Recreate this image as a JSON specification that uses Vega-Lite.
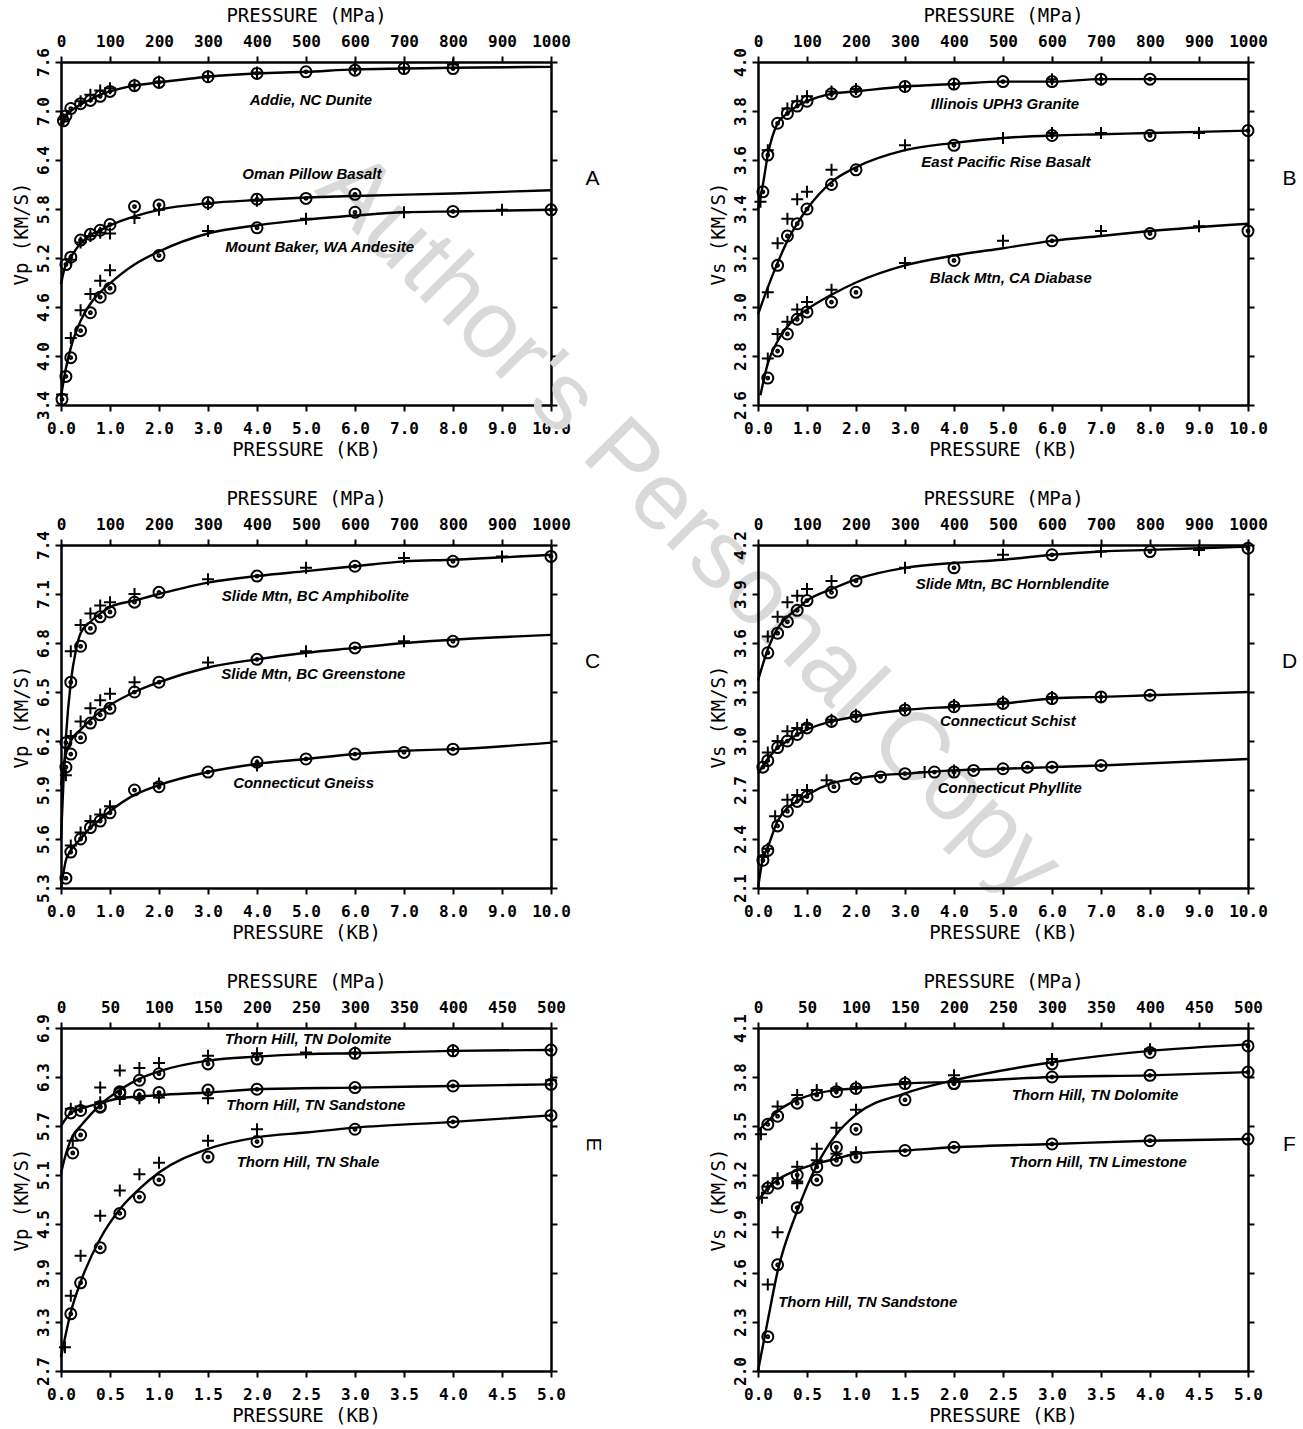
{
"$schema":"https://vega.github.io/schema/vega-lite/v6.json",
"background":"white",
"padding":{"left":12,"top":6,"right":5,"bottom":5},
"columns":2,
"bounds":"flush",
"spacing":{"row":140,"column":207},
"datasets":{
"A":[
{"k":"w","p":12.82,"v":1.92,"t":"Author's Personal Copy"},
{"k":"l","s":1,"p":0,"v":6.84},{"k":"l","s":1,"p":0.1,"v":6.94},{"k":"l","s":1,"p":0.2,"v":7.0},{"k":"l","s":1,"p":0.4,"v":7.08},{"k":"l","s":1,"p":0.6,"v":7.14},{"k":"l","s":1,"p":0.8,"v":7.2},{"k":"l","s":1,"p":1,"v":7.24},{"k":"l","s":1,"p":1.5,"v":7.31},{"k":"l","s":1,"p":2,"v":7.35},{"k":"l","s":1,"p":3,"v":7.42},{"k":"l","s":1,"p":4,"v":7.46},{"k":"l","s":1,"p":5,"v":7.48},{"k":"l","s":1,"p":6,"v":7.51},{"k":"l","s":1,"p":7,"v":7.52},{"k":"l","s":1,"p":8,"v":7.53},{"k":"l","s":1,"p":10,"v":7.54},
{"k":"l","s":2,"p":0,"v":4.88},{"k":"l","s":2,"p":0.05,"v":5.02},{"k":"l","s":2,"p":0.1,"v":5.12},{"k":"l","s":2,"p":0.2,"v":5.21},{"k":"l","s":2,"p":0.4,"v":5.38},{"k":"l","s":2,"p":0.6,"v":5.48},{"k":"l","s":2,"p":0.8,"v":5.54},{"k":"l","s":2,"p":1,"v":5.6},{"k":"l","s":2,"p":1.5,"v":5.71},{"k":"l","s":2,"p":2,"v":5.79},{"k":"l","s":2,"p":3,"v":5.87},{"k":"l","s":2,"p":4,"v":5.91},{"k":"l","s":2,"p":5,"v":5.94},{"k":"l","s":2,"p":6,"v":5.96},{"k":"l","s":2,"p":8,"v":5.99},{"k":"l","s":2,"p":10,"v":6.03},
{"k":"l","s":3,"p":0,"v":3.5},{"k":"l","s":3,"p":0.1,"v":3.85},{"k":"l","s":3,"p":0.2,"v":4.1},{"k":"l","s":3,"p":0.4,"v":4.43},{"k":"l","s":3,"p":0.6,"v":4.64},{"k":"l","s":3,"p":0.8,"v":4.78},{"k":"l","s":3,"p":1,"v":4.89},{"k":"l","s":3,"p":1.5,"v":5.12},{"k":"l","s":3,"p":2,"v":5.28},{"k":"l","s":3,"p":3,"v":5.5},{"k":"l","s":3,"p":4,"v":5.6},{"k":"l","s":3,"p":5,"v":5.67},{"k":"l","s":3,"p":6,"v":5.72},{"k":"l","s":3,"p":7,"v":5.76},{"k":"l","s":3,"p":8,"v":5.77},{"k":"l","s":3,"p":10,"v":5.79},
{"k":"o","p":0.05,"v":6.88},{"k":"o","p":0.1,"v":6.94},{"k":"o","p":0.2,"v":7.03},{"k":"o","p":0.4,"v":7.09},{"k":"o","p":0.6,"v":7.13},{"k":"o","p":0.8,"v":7.18},{"k":"o","p":1,"v":7.24},{"k":"o","p":1.5,"v":7.31},{"k":"o","p":2,"v":7.35},{"k":"o","p":3,"v":7.42},{"k":"o","p":4,"v":7.46},{"k":"o","p":5,"v":7.48},{"k":"o","p":6,"v":7.5},{"k":"o","p":7,"v":7.52},{"k":"o","p":8,"v":7.52},
{"k":"x","p":0.05,"v":6.9},{"k":"x","p":0.4,"v":7.12},{"k":"x","p":0.6,"v":7.2},{"k":"x","p":0.8,"v":7.25},{"k":"x","p":1,"v":7.28},{"k":"x","p":1.5,"v":7.32},{"k":"x","p":2,"v":7.36},{"k":"x","p":3,"v":7.43},{"k":"x","p":4,"v":7.47},{"k":"x","p":6,"v":7.52},{"k":"x","p":7,"v":7.53},{"k":"x","p":8,"v":7.57},
{"k":"o","p":0.1,"v":5.12},{"k":"o","p":0.2,"v":5.21},{"k":"o","p":0.4,"v":5.42},{"k":"o","p":0.6,"v":5.49},{"k":"o","p":0.8,"v":5.54},{"k":"o","p":1,"v":5.61},{"k":"o","p":1.5,"v":5.83},{"k":"o","p":2,"v":5.85},{"k":"o","p":3,"v":5.88},{"k":"o","p":4,"v":5.92},{"k":"o","p":5,"v":5.93},{"k":"o","p":6,"v":5.98},
{"k":"x","p":0.2,"v":5.18},{"k":"x","p":0.4,"v":5.39},{"k":"x","p":0.6,"v":5.47},{"k":"x","p":0.8,"v":5.51},{"k":"x","p":1,"v":5.5},{"k":"x","p":1.5,"v":5.69},{"k":"x","p":2,"v":5.79},{"k":"x","p":3,"v":5.86},{"k":"x","p":4,"v":5.9},
{"k":"o","p":0.02,"v":3.47},{"k":"o","p":0.1,"v":3.75},{"k":"o","p":0.2,"v":3.98},{"k":"o","p":0.4,"v":4.31},{"k":"o","p":0.6,"v":4.53},{"k":"o","p":0.8,"v":4.72},{"k":"o","p":1,"v":4.83},{"k":"o","p":2,"v":5.23},{"k":"o","p":4,"v":5.57},{"k":"o","p":6,"v":5.76},{"k":"o","p":8,"v":5.77},{"k":"o","p":10,"v":5.79},
{"k":"x","p":0.02,"v":3.53},{"k":"x","p":0.2,"v":4.22},{"k":"x","p":0.4,"v":4.56},{"k":"x","p":0.6,"v":4.76},{"k":"x","p":0.8,"v":4.92},{"k":"x","p":1,"v":5.05},{"k":"x","p":3,"v":5.53},{"k":"x","p":5,"v":5.68},{"k":"x","p":7,"v":5.76},{"k":"x","p":9,"v":5.79},{"k":"x","p":10,"v":5.79},
{"k":"t","p":5.1,"v":7.13,"t":"Addie, NC  Dunite"},{"k":"t","p":5.12,"v":6.23,"t":"Oman  Pillow Basalt"},{"k":"t","p":5.28,"v":5.33,"t":"Mount Baker, WA  Andesite"}
],
"B":[
{"k":"l","s":1,"p":0,"v":3.4},{"k":"l","s":1,"p":0.1,"v":3.5},{"k":"l","s":1,"p":0.2,"v":3.62},{"k":"l","s":1,"p":0.4,"v":3.75},{"k":"l","s":1,"p":0.6,"v":3.79},{"k":"l","s":1,"p":0.8,"v":3.82},{"k":"l","s":1,"p":1,"v":3.84},{"k":"l","s":1,"p":1.5,"v":3.87},{"k":"l","s":1,"p":2,"v":3.88},{"k":"l","s":1,"p":3,"v":3.9},{"k":"l","s":1,"p":4,"v":3.91},{"k":"l","s":1,"p":5,"v":3.92},{"k":"l","s":1,"p":6,"v":3.92},{"k":"l","s":1,"p":7,"v":3.93},{"k":"l","s":1,"p":8,"v":3.93},{"k":"l","s":1,"p":10,"v":3.93},
{"k":"l","s":2,"p":0,"v":2.97},{"k":"l","s":2,"p":0.2,"v":3.08},{"k":"l","s":2,"p":0.4,"v":3.18},{"k":"l","s":2,"p":0.6,"v":3.27},{"k":"l","s":2,"p":0.8,"v":3.34},{"k":"l","s":2,"p":1,"v":3.4},{"k":"l","s":2,"p":1.5,"v":3.51},{"k":"l","s":2,"p":2,"v":3.57},{"k":"l","s":2,"p":3,"v":3.64},{"k":"l","s":2,"p":4,"v":3.67},{"k":"l","s":2,"p":5,"v":3.69},{"k":"l","s":2,"p":6,"v":3.7},{"k":"l","s":2,"p":7,"v":3.705},{"k":"l","s":2,"p":8,"v":3.71},{"k":"l","s":2,"p":10,"v":3.72},
{"k":"l","s":3,"p":0.05,"v":2.64},{"k":"l","s":3,"p":0.2,"v":2.77},{"k":"l","s":3,"p":0.4,"v":2.86},{"k":"l","s":3,"p":0.6,"v":2.92},{"k":"l","s":3,"p":0.8,"v":2.96},{"k":"l","s":3,"p":1,"v":2.99},{"k":"l","s":3,"p":1.5,"v":3.05},{"k":"l","s":3,"p":2,"v":3.1},{"k":"l","s":3,"p":3,"v":3.17},{"k":"l","s":3,"p":4,"v":3.21},{"k":"l","s":3,"p":5,"v":3.24},{"k":"l","s":3,"p":6,"v":3.27},{"k":"l","s":3,"p":7,"v":3.29},{"k":"l","s":3,"p":8,"v":3.31},{"k":"l","s":3,"p":10,"v":3.34},
{"k":"o","p":0.1,"v":3.47},{"k":"o","p":0.2,"v":3.62},{"k":"o","p":0.4,"v":3.75},{"k":"o","p":0.6,"v":3.79},{"k":"o","p":0.8,"v":3.82},{"k":"o","p":1,"v":3.84},{"k":"o","p":1.5,"v":3.87},{"k":"o","p":2,"v":3.88},{"k":"o","p":3,"v":3.9},{"k":"o","p":4,"v":3.91},{"k":"o","p":5,"v":3.92},{"k":"o","p":6,"v":3.92},{"k":"o","p":7,"v":3.93},{"k":"o","p":8,"v":3.93},
{"k":"x","p":0.05,"v":3.43},{"k":"x","p":0.2,"v":3.64},{"k":"x","p":0.6,"v":3.81},{"k":"x","p":0.8,"v":3.84},{"k":"x","p":1,"v":3.86},{"k":"x","p":1.5,"v":3.88},{"k":"x","p":2,"v":3.89},{"k":"x","p":3,"v":3.9},{"k":"x","p":4,"v":3.91},{"k":"x","p":6,"v":3.93},{"k":"x","p":7,"v":3.93},
{"k":"o","p":0.4,"v":3.17},{"k":"o","p":0.6,"v":3.29},{"k":"o","p":0.8,"v":3.34},{"k":"o","p":1,"v":3.4},{"k":"o","p":1.5,"v":3.5},{"k":"o","p":2,"v":3.56},{"k":"o","p":4,"v":3.66},{"k":"o","p":6,"v":3.7},{"k":"o","p":8,"v":3.7},{"k":"o","p":10,"v":3.72},
{"k":"x","p":0.2,"v":3.06},{"k":"x","p":0.4,"v":3.26},{"k":"x","p":0.6,"v":3.36},{"k":"x","p":0.8,"v":3.44},{"k":"x","p":1,"v":3.47},{"k":"x","p":1.5,"v":3.56},{"k":"x","p":3,"v":3.66},{"k":"x","p":5,"v":3.69},{"k":"x","p":6,"v":3.71},{"k":"x","p":7,"v":3.71},{"k":"x","p":9,"v":3.71},
{"k":"o","p":0.2,"v":2.71},{"k":"o","p":0.4,"v":2.82},{"k":"o","p":0.6,"v":2.89},{"k":"o","p":0.8,"v":2.95},{"k":"o","p":1,"v":2.98},{"k":"o","p":1.5,"v":3.02},{"k":"o","p":2,"v":3.06},{"k":"o","p":4,"v":3.19},{"k":"o","p":6,"v":3.27},{"k":"o","p":8,"v":3.3},{"k":"o","p":10,"v":3.31},
{"k":"x","p":0.2,"v":2.79},{"k":"x","p":0.4,"v":2.89},{"k":"x","p":0.6,"v":2.94},{"k":"x","p":0.8,"v":2.99},{"k":"x","p":1,"v":3.02},{"k":"x","p":1.5,"v":3.07},{"k":"x","p":3,"v":3.18},{"k":"x","p":5,"v":3.27},{"k":"x","p":7,"v":3.31},{"k":"x","p":9,"v":3.33},
{"k":"t","p":5.04,"v":3.83,"t":"Illinois  UPH3  Granite"},{"k":"t","p":5.06,"v":3.59,"t":"East Pacific Rise  Basalt"},{"k":"t","p":5.16,"v":3.12,"t":"Black Mtn, CA  Diabase"}
],
"C":[
{"k":"l","s":1,"p":0,"v":5.6},{"k":"l","s":1,"p":0.05,"v":5.95},{"k":"l","s":1,"p":0.1,"v":6.22},{"k":"l","s":1,"p":0.2,"v":6.56},{"k":"l","s":1,"p":0.3,"v":6.75},{"k":"l","s":1,"p":0.4,"v":6.86},{"k":"l","s":1,"p":0.6,"v":6.93},{"k":"l","s":1,"p":0.8,"v":6.98},{"k":"l","s":1,"p":1,"v":7.02},{"k":"l","s":1,"p":1.5,"v":7.06},{"k":"l","s":1,"p":2,"v":7.1},{"k":"l","s":1,"p":3,"v":7.17},{"k":"l","s":1,"p":4,"v":7.21},{"k":"l","s":1,"p":5,"v":7.24},{"k":"l","s":1,"p":6,"v":7.27},{"k":"l","s":1,"p":7,"v":7.3},{"k":"l","s":1,"p":8,"v":7.31},{"k":"l","s":1,"p":10,"v":7.34},
{"k":"l","s":2,"p":0,"v":5.93},{"k":"l","s":2,"p":0.1,"v":6.12},{"k":"l","s":2,"p":0.2,"v":6.2},{"k":"l","s":2,"p":0.4,"v":6.27},{"k":"l","s":2,"p":0.6,"v":6.33},{"k":"l","s":2,"p":0.8,"v":6.38},{"k":"l","s":2,"p":1,"v":6.42},{"k":"l","s":2,"p":1.5,"v":6.5},{"k":"l","s":2,"p":2,"v":6.56},{"k":"l","s":2,"p":3,"v":6.65},{"k":"l","s":2,"p":4,"v":6.7},{"k":"l","s":2,"p":5,"v":6.74},{"k":"l","s":2,"p":6,"v":6.77},{"k":"l","s":2,"p":7,"v":6.8},{"k":"l","s":2,"p":8,"v":6.82},{"k":"l","s":2,"p":10,"v":6.85},
{"k":"l","s":3,"p":0,"v":5.3},{"k":"l","s":3,"p":0.1,"v":5.47},{"k":"l","s":3,"p":0.2,"v":5.53},{"k":"l","s":3,"p":0.4,"v":5.6},{"k":"l","s":3,"p":0.6,"v":5.67},{"k":"l","s":3,"p":0.8,"v":5.72},{"k":"l","s":3,"p":1,"v":5.77},{"k":"l","s":3,"p":1.5,"v":5.87},{"k":"l","s":3,"p":2,"v":5.93},{"k":"l","s":3,"p":3,"v":6.01},{"k":"l","s":3,"p":4,"v":6.06},{"k":"l","s":3,"p":5,"v":6.09},{"k":"l","s":3,"p":6,"v":6.12},{"k":"l","s":3,"p":7,"v":6.14},{"k":"l","s":3,"p":8,"v":6.15},{"k":"l","s":3,"p":10,"v":6.19},
{"k":"o","p":0.1,"v":6.19},{"k":"o","p":0.2,"v":6.56},{"k":"o","p":0.4,"v":6.78},{"k":"o","p":0.6,"v":6.89},{"k":"o","p":0.8,"v":6.96},{"k":"o","p":1,"v":6.99},{"k":"o","p":1.5,"v":7.05},{"k":"o","p":2,"v":7.11},{"k":"o","p":4,"v":7.21},{"k":"o","p":6,"v":7.27},{"k":"o","p":8,"v":7.3},{"k":"o","p":10,"v":7.33},
{"k":"x","p":0.2,"v":6.75},{"k":"x","p":0.4,"v":6.91},{"k":"x","p":0.6,"v":6.98},{"k":"x","p":0.8,"v":7.03},{"k":"x","p":1,"v":7.05},{"k":"x","p":1.5,"v":7.1},{"k":"x","p":3,"v":7.19},{"k":"x","p":5,"v":7.26},{"k":"x","p":7,"v":7.32},{"k":"x","p":9,"v":7.33},
{"k":"o","p":0.1,"v":6.04},{"k":"o","p":0.2,"v":6.12},{"k":"o","p":0.4,"v":6.22},{"k":"o","p":0.6,"v":6.31},{"k":"o","p":0.8,"v":6.36},{"k":"o","p":1,"v":6.4},{"k":"o","p":1.5,"v":6.5},{"k":"o","p":2,"v":6.56},{"k":"o","p":4,"v":6.7},{"k":"o","p":6,"v":6.77},{"k":"o","p":8,"v":6.81},
{"k":"x","p":0.1,"v":5.99},{"k":"x","p":0.2,"v":6.23},{"k":"x","p":0.4,"v":6.32},{"k":"x","p":0.6,"v":6.4},{"k":"x","p":0.8,"v":6.45},{"k":"x","p":1,"v":6.49},{"k":"x","p":1.5,"v":6.56},{"k":"x","p":3,"v":6.68},{"k":"x","p":5,"v":6.75},{"k":"x","p":7,"v":6.81},
{"k":"o","p":0.1,"v":5.36},{"k":"o","p":0.2,"v":5.52},{"k":"o","p":0.4,"v":5.6},{"k":"o","p":0.6,"v":5.67},{"k":"o","p":0.8,"v":5.71},{"k":"o","p":1,"v":5.76},{"k":"o","p":1.5,"v":5.9},{"k":"o","p":2,"v":5.92},{"k":"o","p":3,"v":6.01},{"k":"o","p":4,"v":6.07},{"k":"o","p":5,"v":6.09},{"k":"o","p":6,"v":6.12},{"k":"o","p":7,"v":6.13},{"k":"o","p":8,"v":6.15},
{"k":"x","p":0.2,"v":5.56},{"k":"x","p":0.4,"v":5.64},{"k":"x","p":0.6,"v":5.71},{"k":"x","p":0.8,"v":5.75},{"k":"x","p":1,"v":5.8},{"k":"x","p":2,"v":5.94},{"k":"x","p":4,"v":6.05},
{"k":"t","p":5.19,"v":7.09,"t":"Slide Mtn, BC  Amphibolite"},{"k":"t","p":5.15,"v":6.61,"t":"Slide Mtn, BC  Greenstone"},{"k":"t","p":4.95,"v":5.94,"t":"Connecticut  Gneiss"}
],
"D":[
{"k":"l","s":1,"p":0,"v":3.37},{"k":"l","s":1,"p":0.2,"v":3.56},{"k":"l","s":1,"p":0.4,"v":3.69},{"k":"l","s":1,"p":0.6,"v":3.76},{"k":"l","s":1,"p":0.8,"v":3.81},{"k":"l","s":1,"p":1,"v":3.86},{"k":"l","s":1,"p":1.5,"v":3.93},{"k":"l","s":1,"p":2,"v":3.99},{"k":"l","s":1,"p":3,"v":4.06},{"k":"l","s":1,"p":4,"v":4.09},{"k":"l","s":1,"p":5,"v":4.11},{"k":"l","s":1,"p":6,"v":4.14},{"k":"l","s":1,"p":7,"v":4.16},{"k":"l","s":1,"p":8,"v":4.17},{"k":"l","s":1,"p":10,"v":4.19},
{"k":"l","s":2,"p":0,"v":2.8},{"k":"l","s":2,"p":0.2,"v":2.89},{"k":"l","s":2,"p":0.4,"v":2.96},{"k":"l","s":2,"p":0.6,"v":3.0},{"k":"l","s":2,"p":0.8,"v":3.04},{"k":"l","s":2,"p":1,"v":3.07},{"k":"l","s":2,"p":1.5,"v":3.12},{"k":"l","s":2,"p":2,"v":3.15},{"k":"l","s":2,"p":3,"v":3.19},{"k":"l","s":2,"p":4,"v":3.21},{"k":"l","s":2,"p":5,"v":3.23},{"k":"l","s":2,"p":6,"v":3.26},{"k":"l","s":2,"p":7,"v":3.27},{"k":"l","s":2,"p":8,"v":3.28},{"k":"l","s":2,"p":10,"v":3.3},
{"k":"l","s":3,"p":0,"v":2.1},{"k":"l","s":3,"p":0.1,"v":2.28},{"k":"l","s":3,"p":0.2,"v":2.35},{"k":"l","s":3,"p":0.4,"v":2.51},{"k":"l","s":3,"p":0.6,"v":2.59},{"k":"l","s":3,"p":0.8,"v":2.63},{"k":"l","s":3,"p":1,"v":2.67},{"k":"l","s":3,"p":1.5,"v":2.74},{"k":"l","s":3,"p":2,"v":2.77},{"k":"l","s":3,"p":2.5,"v":2.79},{"k":"l","s":3,"p":3,"v":2.8},{"k":"l","s":3,"p":4,"v":2.82},{"k":"l","s":3,"p":5,"v":2.83},{"k":"l","s":3,"p":6,"v":2.84},{"k":"l","s":3,"p":7,"v":2.85},{"k":"l","s":3,"p":10,"v":2.89},
{"k":"o","p":0.2,"v":3.54},{"k":"o","p":0.4,"v":3.66},{"k":"o","p":0.6,"v":3.73},{"k":"o","p":0.8,"v":3.8},{"k":"o","p":1,"v":3.86},{"k":"o","p":1.5,"v":3.91},{"k":"o","p":2,"v":3.98},{"k":"o","p":4,"v":4.06},{"k":"o","p":6,"v":4.14},{"k":"o","p":8,"v":4.16},{"k":"o","p":10,"v":4.18},
{"k":"x","p":0.2,"v":3.64},{"k":"x","p":0.4,"v":3.76},{"k":"x","p":0.6,"v":3.85},{"k":"x","p":0.8,"v":3.89},{"k":"x","p":1,"v":3.93},{"k":"x","p":1.5,"v":3.98},{"k":"x","p":3,"v":4.06},{"k":"x","p":5,"v":4.14},{"k":"x","p":7,"v":4.16},{"k":"x","p":9,"v":4.17},
{"k":"o","p":0.1,"v":2.84},{"k":"o","p":0.2,"v":2.88},{"k":"o","p":0.4,"v":2.96},{"k":"o","p":0.6,"v":3.0},{"k":"o","p":0.8,"v":3.04},{"k":"o","p":1,"v":3.08},{"k":"o","p":1.5,"v":3.12},{"k":"o","p":2,"v":3.15},{"k":"o","p":3,"v":3.19},{"k":"o","p":4,"v":3.21},{"k":"o","p":5,"v":3.23},{"k":"o","p":6,"v":3.26},{"k":"o","p":7,"v":3.27},{"k":"o","p":8,"v":3.28},
{"k":"x","p":0.2,"v":2.93},{"k":"x","p":0.4,"v":3.0},{"k":"x","p":0.6,"v":3.06},{"k":"x","p":0.8,"v":3.08},{"k":"x","p":1,"v":3.1},{"k":"x","p":1.5,"v":3.13},{"k":"x","p":2,"v":3.16},{"k":"x","p":3,"v":3.2},{"k":"x","p":4,"v":3.22},{"k":"x","p":5,"v":3.24},{"k":"x","p":6,"v":3.27},{"k":"x","p":7,"v":3.27},
{"k":"o","p":0.1,"v":2.27},{"k":"o","p":0.2,"v":2.33},{"k":"o","p":0.4,"v":2.48},{"k":"o","p":0.6,"v":2.57},{"k":"o","p":0.8,"v":2.63},{"k":"o","p":1,"v":2.66},{"k":"o","p":1.55,"v":2.72},{"k":"o","p":2,"v":2.77},{"k":"o","p":2.5,"v":2.78},{"k":"o","p":3,"v":2.8},{"k":"o","p":3.6,"v":2.81},{"k":"o","p":4,"v":2.81},{"k":"o","p":4.4,"v":2.82},{"k":"o","p":5,"v":2.83},{"k":"o","p":5.5,"v":2.84},{"k":"o","p":6,"v":2.84},{"k":"o","p":7,"v":2.85},
{"k":"x","p":0.1,"v":2.29},{"k":"x","p":0.2,"v":2.34},{"k":"x","p":0.35,"v":2.54},{"k":"x","p":0.6,"v":2.64},{"k":"x","p":0.8,"v":2.67},{"k":"x","p":1,"v":2.7},{"k":"x","p":1.4,"v":2.76},{"k":"x","p":3.4,"v":2.81},{"k":"x","p":4,"v":2.82},
{"k":"t","p":5.19,"v":3.96,"t":"Slide Mtn, BC  Hornblendite"},{"k":"t","p":5.1,"v":3.12,"t":"Connecticut  Schist"},{"k":"t","p":5.14,"v":2.71,"t":"Connecticut  Phyllite"}
],
"E":[
{"k":"l","s":1,"p":0,"v":5.12},{"k":"l","s":1,"p":0.06,"v":5.4},{"k":"l","s":1,"p":0.12,"v":5.58},{"k":"l","s":1,"p":0.2,"v":5.7},{"k":"l","s":1,"p":0.4,"v":5.96},{"k":"l","s":1,"p":0.6,"v":6.14},{"k":"l","s":1,"p":0.8,"v":6.28},{"k":"l","s":1,"p":1,"v":6.37},{"k":"l","s":1,"p":1.5,"v":6.5},{"k":"l","s":1,"p":2,"v":6.55},{"k":"l","s":1,"p":2.5,"v":6.58},{"k":"l","s":1,"p":3,"v":6.59},{"k":"l","s":1,"p":4,"v":6.62},{"k":"l","s":1,"p":5,"v":6.63},
{"k":"l","s":2,"p":0,"v":5.7},{"k":"l","s":2,"p":0.1,"v":5.86},{"k":"l","s":2,"p":0.2,"v":5.91},{"k":"l","s":2,"p":0.4,"v":5.98},{"k":"l","s":2,"p":0.6,"v":6.04},{"k":"l","s":2,"p":0.8,"v":6.06},{"k":"l","s":2,"p":1,"v":6.08},{"k":"l","s":2,"p":1.5,"v":6.11},{"k":"l","s":2,"p":2,"v":6.15},{"k":"l","s":2,"p":3,"v":6.17},{"k":"l","s":2,"p":4,"v":6.19},{"k":"l","s":2,"p":5,"v":6.21},
{"k":"l","s":3,"p":0,"v":2.87},{"k":"l","s":3,"p":0.1,"v":3.42},{"k":"l","s":3,"p":0.2,"v":3.79},{"k":"l","s":3,"p":0.4,"v":4.32},{"k":"l","s":3,"p":0.6,"v":4.68},{"k":"l","s":3,"p":0.8,"v":4.93},{"k":"l","s":3,"p":1,"v":5.13},{"k":"l","s":3,"p":1.5,"v":5.42},{"k":"l","s":3,"p":2,"v":5.56},{"k":"l","s":3,"p":2.5,"v":5.62},{"k":"l","s":3,"p":3,"v":5.68},{"k":"l","s":3,"p":4,"v":5.75},{"k":"l","s":3,"p":5,"v":5.83},
{"k":"o","p":0.12,"v":5.37},{"k":"o","p":0.2,"v":5.59},{"k":"o","p":0.4,"v":5.93},{"k":"o","p":0.6,"v":6.1},{"k":"o","p":0.8,"v":6.26},{"k":"o","p":1,"v":6.34},{"k":"o","p":1.5,"v":6.46},{"k":"o","p":2,"v":6.52},{"k":"o","p":3,"v":6.59},{"k":"o","p":4,"v":6.62},{"k":"o","p":5,"v":6.63},
{"k":"x","p":0.12,"v":5.52},{"k":"x","p":0.4,"v":6.17},{"k":"x","p":0.6,"v":6.38},{"k":"x","p":0.8,"v":6.41},{"k":"x","p":1,"v":6.47},{"k":"x","p":1.5,"v":6.56},{"k":"x","p":2,"v":6.59},{"k":"x","p":2.5,"v":6.6},{"k":"x","p":3,"v":6.6},{"k":"x","p":4,"v":6.63},
{"k":"o","p":0.1,"v":5.86},{"k":"o","p":0.2,"v":5.89},{"k":"o","p":0.4,"v":5.94},{"k":"o","p":0.6,"v":6.12},{"k":"o","p":0.8,"v":6.08},{"k":"o","p":1,"v":6.11},{"k":"o","p":1.5,"v":6.14},{"k":"o","p":2,"v":6.15},{"k":"o","p":3,"v":6.17},{"k":"o","p":4,"v":6.19},{"k":"o","p":5,"v":6.21},
{"k":"x","p":0.1,"v":5.91},{"k":"x","p":0.2,"v":5.94},{"k":"x","p":0.4,"v":5.99},{"k":"x","p":0.6,"v":6.03},{"k":"x","p":0.8,"v":6.04},{"k":"x","p":1,"v":6.05},{"k":"x","p":1.5,"v":6.04},{"k":"x","p":5,"v":6.26},
{"k":"o","p":0.1,"v":3.4},{"k":"o","p":0.2,"v":3.78},{"k":"o","p":0.4,"v":4.21},{"k":"o","p":0.6,"v":4.63},{"k":"o","p":0.8,"v":4.83},{"k":"o","p":1,"v":5.04},{"k":"o","p":1.5,"v":5.32},{"k":"o","p":2,"v":5.51},{"k":"o","p":3,"v":5.66},{"k":"o","p":4,"v":5.75},{"k":"o","p":5,"v":5.83},
{"k":"x","p":0.04,"v":2.99},{"k":"x","p":0.1,"v":3.62},{"k":"x","p":0.2,"v":4.11},{"k":"x","p":0.4,"v":4.6},{"k":"x","p":0.6,"v":4.91},{"k":"x","p":0.8,"v":5.11},{"k":"x","p":1,"v":5.25},{"k":"x","p":1.5,"v":5.52},{"k":"x","p":2,"v":5.66},
{"k":"t","p":2.52,"v":6.77,"t":"Thorn Hill, TN  Dolomite"},{"k":"t","p":2.6,"v":5.96,"t":"Thorn Hill, TN  Sandstone"},{"k":"t","p":2.52,"v":5.26,"t":"Thorn Hill, TN  Shale"}
],
"F":[
{"k":"l","s":1,"p":0,"v":3.47},{"k":"l","s":1,"p":0.1,"v":3.53},{"k":"l","s":1,"p":0.2,"v":3.59},{"k":"l","s":1,"p":0.4,"v":3.66},{"k":"l","s":1,"p":0.6,"v":3.7},{"k":"l","s":1,"p":0.8,"v":3.72},{"k":"l","s":1,"p":1,"v":3.73},{"k":"l","s":1,"p":1.5,"v":3.76},{"k":"l","s":1,"p":2,"v":3.77},{"k":"l","s":1,"p":3,"v":3.8},{"k":"l","s":1,"p":4,"v":3.81},{"k":"l","s":1,"p":5,"v":3.83},
{"k":"l","s":2,"p":0,"v":3.04},{"k":"l","s":2,"p":0.1,"v":3.12},{"k":"l","s":2,"p":0.2,"v":3.17},{"k":"l","s":2,"p":0.4,"v":3.23},{"k":"l","s":2,"p":0.6,"v":3.27},{"k":"l","s":2,"p":0.8,"v":3.3},{"k":"l","s":2,"p":1,"v":3.33},{"k":"l","s":2,"p":1.5,"v":3.35},{"k":"l","s":2,"p":2,"v":3.37},{"k":"l","s":2,"p":3,"v":3.39},{"k":"l","s":2,"p":4,"v":3.41},{"k":"l","s":2,"p":5,"v":3.42},
{"k":"l","s":3,"p":0,"v":2.0},{"k":"l","s":3,"p":0.1,"v":2.31},{"k":"l","s":3,"p":0.2,"v":2.61},{"k":"l","s":3,"p":0.4,"v":2.98},{"k":"l","s":3,"p":0.6,"v":3.26},{"k":"l","s":3,"p":0.8,"v":3.45},{"k":"l","s":3,"p":1,"v":3.57},{"k":"l","s":3,"p":1.5,"v":3.7},{"k":"l","s":3,"p":2,"v":3.78},{"k":"l","s":3,"p":3,"v":3.89},{"k":"l","s":3,"p":4,"v":3.96},{"k":"l","s":3,"p":5,"v":4.0},
{"k":"o","p":0.1,"v":3.51},{"k":"o","p":0.2,"v":3.56},{"k":"o","p":0.4,"v":3.64},{"k":"o","p":0.6,"v":3.69},{"k":"o","p":0.8,"v":3.71},{"k":"o","p":1,"v":3.73},{"k":"o","p":1.5,"v":3.76},{"k":"o","p":2,"v":3.76},{"k":"o","p":3,"v":3.8},{"k":"o","p":4,"v":3.81},{"k":"o","p":5,"v":3.83},
{"k":"x","p":0.03,"v":3.45},{"k":"x","p":0.2,"v":3.62},{"k":"x","p":0.4,"v":3.69},{"k":"x","p":0.6,"v":3.72},{"k":"x","p":0.8,"v":3.73},{"k":"x","p":1,"v":3.74},{"k":"x","p":1.5,"v":3.77},{"k":"x","p":2,"v":3.81},
{"k":"o","p":0.1,"v":3.12},{"k":"o","p":0.2,"v":3.15},{"k":"o","p":0.4,"v":3.2},{"k":"o","p":0.6,"v":3.25},{"k":"o","p":0.8,"v":3.29},{"k":"o","p":1,"v":3.31},{"k":"o","p":1.5,"v":3.35},{"k":"o","p":2,"v":3.37},{"k":"o","p":3,"v":3.39},{"k":"o","p":4,"v":3.41},{"k":"o","p":5,"v":3.42},
{"k":"x","p":0.04,"v":3.06},{"k":"x","p":0.1,"v":3.13},{"k":"x","p":0.2,"v":3.18},{"k":"x","p":0.4,"v":3.25},{"k":"x","p":0.4,"v":3.15},{"k":"x","p":0.6,"v":3.29},{"k":"x","p":0.8,"v":3.33},{"k":"x","p":1,"v":3.34},
{"k":"o","p":0.1,"v":2.21},{"k":"o","p":0.2,"v":2.65},{"k":"o","p":0.4,"v":3.0},{"k":"o","p":0.6,"v":3.17},{"k":"o","p":0.8,"v":3.37},{"k":"o","p":1,"v":3.48},{"k":"o","p":1.5,"v":3.66},{"k":"o","p":2,"v":3.76},{"k":"o","p":3,"v":3.88},{"k":"o","p":4,"v":3.95},{"k":"o","p":5,"v":3.99},
{"k":"x","p":0.1,"v":2.53},{"k":"x","p":0.2,"v":2.85},{"k":"x","p":0.4,"v":3.16},{"k":"x","p":0.6,"v":3.36},{"k":"x","p":0.8,"v":3.49},{"k":"x","p":1,"v":3.6},{"k":"x","p":3,"v":3.91},{"k":"x","p":4,"v":3.97},
{"k":"t","p":3.44,"v":3.69,"t":"Thorn Hill, TN  Dolomite"},{"k":"t","p":3.47,"v":3.28,"t":"Thorn Hill, TN  Limestone"},{"k":"t","p":1.12,"v":2.42,"t":"Thorn Hill, TN  Sandstone"}
]
},
"concat":[
{"width":490,"height":343,"data":{"name":"A"},
"layer":[
{"transform":[{"filter":"datum.k=='w'"}],"mark":{"type":"text","angle":45,"fontSize":96,"font":"Liberation Sans","color":"#d9d9d9","align":"center","baseline":"middle"},
"encoding":{"x":{"field":"p","type":"quantitative","scale":{"domain":[0,10],"nice":false,"zero":false},"axis":null},"y":{"field":"v","type":"quantitative","scale":{"domain":[3.4,7.6],"nice":false,"zero":false},"axis":null},"text":{"field":"t"}}},
{"transform":[{"filter":"datum.k=='l'"}],"mark":{"type":"line","interpolate":"monotone","color":"black","strokeWidth":2.4},
"encoding":{"x":{"field":"p","type":"quantitative","scale":{"domain":[0,10],"nice":false,"zero":false},"axis":{"orient":"bottom","values":[0,1,2,3,4,5,6,7,8,9,10],"format":".1f","title":"PRESSURE  (KB)"}},
"y":{"field":"v","type":"quantitative","scale":{"domain":[3.4,7.6],"nice":false,"zero":false},"axis":{"orient":"left","values":[3.4,4.0,4.6,5.2,5.8,6.4,7.0,7.6],"format":".1f","title":"Vp  (KM/S)"}},"detail":{"field":"s"}}},
{"transform":[{"filter":"datum.k=='o'"}],"mark":{"type":"point","shape":"M-1,0A1,1 0 1,0 1,0A1,1 0 1,0 -1,0ZM-0.25,0A0.25,0.25 0 1,0 0.25,0A0.25,0.25 0 1,0 -0.25,0Z","filled":false,"color":"black","strokeWidth":2,"size":121,"opacity":1},
"encoding":{"x":{"field":"p","type":"quantitative","scale":{"domain":[0,10],"nice":false,"zero":false},"axis":{"orient":"top","values":[0,1,2,3,4,5,6,7,8,9,10],"labelExpr":"format(datum.value*100,'d')","title":"PRESSURE  (MPa)"}},
"y":{"field":"v","type":"quantitative","scale":{"domain":[3.4,7.6],"nice":false,"zero":false},"axis":{"orient":"right","values":[3.4,4.0,4.6,5.2,5.8,6.4,7.0,7.6],"labels":false,"title":"A","titleAngle":0}}}},
{"transform":[{"filter":"datum.k=='x'"}],"mark":{"type":"point","shape":"M-1,0L1,0M0,-1L0,1","filled":false,"color":"black","strokeWidth":2,"size":144,"opacity":1},
"encoding":{"x":{"field":"p","type":"quantitative","scale":{"domain":[0,10],"nice":false,"zero":false},"axis":null},"y":{"field":"v","type":"quantitative","scale":{"domain":[3.4,7.6],"nice":false,"zero":false},"axis":null}}},
{"transform":[{"filter":"datum.k=='t'"}],"mark":{"type":"text","font":"Liberation Sans","fontStyle":"italic","fontWeight":"bold","fontSize":15,"color":"black"},
"encoding":{"x":{"field":"p","type":"quantitative","scale":{"domain":[0,10],"nice":false,"zero":false},"axis":null},"y":{"field":"v","type":"quantitative","scale":{"domain":[3.4,7.6],"nice":false,"zero":false},"axis":null},"text":{"field":"t"}}}
],
"resolve":{"axis":{"x":"independent","y":"independent"}}},
{"width":490,"height":343,"data":{"name":"B"},
"layer":[
{"transform":[{"filter":"datum.k=='l'"}],"mark":{"type":"line","interpolate":"monotone","color":"black","strokeWidth":2.4},
"encoding":{"x":{"field":"p","type":"quantitative","scale":{"domain":[0,10],"nice":false,"zero":false},"axis":{"orient":"bottom","values":[0,1,2,3,4,5,6,7,8,9,10],"format":".1f","title":"PRESSURE  (KB)"}},
"y":{"field":"v","type":"quantitative","scale":{"domain":[2.6,4.0],"nice":false,"zero":false},"axis":{"orient":"left","values":[2.6,2.8,3.0,3.2,3.4,3.6,3.8,4.0],"format":".1f","title":"Vs  (KM/S)"}},"detail":{"field":"s"}}},
{"transform":[{"filter":"datum.k=='o'"}],"mark":{"type":"point","shape":"M-1,0A1,1 0 1,0 1,0A1,1 0 1,0 -1,0ZM-0.25,0A0.25,0.25 0 1,0 0.25,0A0.25,0.25 0 1,0 -0.25,0Z","filled":false,"color":"black","strokeWidth":2,"size":121,"opacity":1},
"encoding":{"x":{"field":"p","type":"quantitative","scale":{"domain":[0,10],"nice":false,"zero":false},"axis":{"orient":"top","values":[0,1,2,3,4,5,6,7,8,9,10],"labelExpr":"format(datum.value*100,'d')","title":"PRESSURE  (MPa)"}},
"y":{"field":"v","type":"quantitative","scale":{"domain":[2.6,4.0],"nice":false,"zero":false},"axis":{"orient":"right","values":[2.6,2.8,3.0,3.2,3.4,3.6,3.8,4.0],"labels":false,"title":"B","titleAngle":0}}}},
{"transform":[{"filter":"datum.k=='x'"}],"mark":{"type":"point","shape":"M-1,0L1,0M0,-1L0,1","filled":false,"color":"black","strokeWidth":2,"size":144,"opacity":1},
"encoding":{"x":{"field":"p","type":"quantitative","scale":{"domain":[0,10],"nice":false,"zero":false},"axis":null},"y":{"field":"v","type":"quantitative","scale":{"domain":[2.6,4.0],"nice":false,"zero":false},"axis":null}}},
{"transform":[{"filter":"datum.k=='t'"}],"mark":{"type":"text","font":"Liberation Sans","fontStyle":"italic","fontWeight":"bold","fontSize":15,"color":"black"},
"encoding":{"x":{"field":"p","type":"quantitative","scale":{"domain":[0,10],"nice":false,"zero":false},"axis":null},"y":{"field":"v","type":"quantitative","scale":{"domain":[2.6,4.0],"nice":false,"zero":false},"axis":null},"text":{"field":"t"}}}
],
"resolve":{"axis":{"x":"independent","y":"independent"}}},
{"width":490,"height":343,"data":{"name":"C"},
"layer":[
{"transform":[{"filter":"datum.k=='l'"}],"mark":{"type":"line","interpolate":"monotone","color":"black","strokeWidth":2.4},
"encoding":{"x":{"field":"p","type":"quantitative","scale":{"domain":[0,10],"nice":false,"zero":false},"axis":{"orient":"bottom","values":[0,1,2,3,4,5,6,7,8,9,10],"format":".1f","title":"PRESSURE  (KB)"}},
"y":{"field":"v","type":"quantitative","scale":{"domain":[5.3,7.4],"nice":false,"zero":false},"axis":{"orient":"left","values":[5.3,5.6,5.9,6.2,6.5,6.8,7.1,7.4],"format":".1f","title":"Vp  (KM/S)"}},"detail":{"field":"s"}}},
{"transform":[{"filter":"datum.k=='o'"}],"mark":{"type":"point","shape":"M-1,0A1,1 0 1,0 1,0A1,1 0 1,0 -1,0ZM-0.25,0A0.25,0.25 0 1,0 0.25,0A0.25,0.25 0 1,0 -0.25,0Z","filled":false,"color":"black","strokeWidth":2,"size":121,"opacity":1},
"encoding":{"x":{"field":"p","type":"quantitative","scale":{"domain":[0,10],"nice":false,"zero":false},"axis":{"orient":"top","values":[0,1,2,3,4,5,6,7,8,9,10],"labelExpr":"format(datum.value*100,'d')","title":"PRESSURE  (MPa)"}},
"y":{"field":"v","type":"quantitative","scale":{"domain":[5.3,7.4],"nice":false,"zero":false},"axis":{"orient":"right","values":[5.3,5.6,5.9,6.2,6.5,6.8,7.1,7.4],"labels":false,"title":"C","titleAngle":0}}}},
{"transform":[{"filter":"datum.k=='x'"}],"mark":{"type":"point","shape":"M-1,0L1,0M0,-1L0,1","filled":false,"color":"black","strokeWidth":2,"size":144,"opacity":1},
"encoding":{"x":{"field":"p","type":"quantitative","scale":{"domain":[0,10],"nice":false,"zero":false},"axis":null},"y":{"field":"v","type":"quantitative","scale":{"domain":[5.3,7.4],"nice":false,"zero":false},"axis":null}}},
{"transform":[{"filter":"datum.k=='t'"}],"mark":{"type":"text","font":"Liberation Sans","fontStyle":"italic","fontWeight":"bold","fontSize":15,"color":"black"},
"encoding":{"x":{"field":"p","type":"quantitative","scale":{"domain":[0,10],"nice":false,"zero":false},"axis":null},"y":{"field":"v","type":"quantitative","scale":{"domain":[5.3,7.4],"nice":false,"zero":false},"axis":null},"text":{"field":"t"}}}
],
"resolve":{"axis":{"x":"independent","y":"independent"}}},
{"width":490,"height":343,"data":{"name":"D"},
"layer":[
{"transform":[{"filter":"datum.k=='l'"}],"mark":{"type":"line","interpolate":"monotone","color":"black","strokeWidth":2.4},
"encoding":{"x":{"field":"p","type":"quantitative","scale":{"domain":[0,10],"nice":false,"zero":false},"axis":{"orient":"bottom","values":[0,1,2,3,4,5,6,7,8,9,10],"format":".1f","title":"PRESSURE  (KB)"}},
"y":{"field":"v","type":"quantitative","scale":{"domain":[2.1,4.2],"nice":false,"zero":false},"axis":{"orient":"left","values":[2.1,2.4,2.7,3.0,3.3,3.6,3.9,4.2],"format":".1f","title":"Vs  (KM/S)"}},"detail":{"field":"s"}}},
{"transform":[{"filter":"datum.k=='o'"}],"mark":{"type":"point","shape":"M-1,0A1,1 0 1,0 1,0A1,1 0 1,0 -1,0ZM-0.25,0A0.25,0.25 0 1,0 0.25,0A0.25,0.25 0 1,0 -0.25,0Z","filled":false,"color":"black","strokeWidth":2,"size":121,"opacity":1},
"encoding":{"x":{"field":"p","type":"quantitative","scale":{"domain":[0,10],"nice":false,"zero":false},"axis":{"orient":"top","values":[0,1,2,3,4,5,6,7,8,9,10],"labelExpr":"format(datum.value*100,'d')","title":"PRESSURE  (MPa)"}},
"y":{"field":"v","type":"quantitative","scale":{"domain":[2.1,4.2],"nice":false,"zero":false},"axis":{"orient":"right","values":[2.1,2.4,2.7,3.0,3.3,3.6,3.9,4.2],"labels":false,"title":"D","titleAngle":0}}}},
{"transform":[{"filter":"datum.k=='x'"}],"mark":{"type":"point","shape":"M-1,0L1,0M0,-1L0,1","filled":false,"color":"black","strokeWidth":2,"size":144,"opacity":1},
"encoding":{"x":{"field":"p","type":"quantitative","scale":{"domain":[0,10],"nice":false,"zero":false},"axis":null},"y":{"field":"v","type":"quantitative","scale":{"domain":[2.1,4.2],"nice":false,"zero":false},"axis":null}}},
{"transform":[{"filter":"datum.k=='t'"}],"mark":{"type":"text","font":"Liberation Sans","fontStyle":"italic","fontWeight":"bold","fontSize":15,"color":"black"},
"encoding":{"x":{"field":"p","type":"quantitative","scale":{"domain":[0,10],"nice":false,"zero":false},"axis":null},"y":{"field":"v","type":"quantitative","scale":{"domain":[2.1,4.2],"nice":false,"zero":false},"axis":null},"text":{"field":"t"}}}
],
"resolve":{"axis":{"x":"independent","y":"independent"}}},
{"width":490,"height":343,"data":{"name":"E"},
"layer":[
{"transform":[{"filter":"datum.k=='l'"}],"mark":{"type":"line","interpolate":"monotone","color":"black","strokeWidth":2.4},
"encoding":{"x":{"field":"p","type":"quantitative","scale":{"domain":[0,5],"nice":false,"zero":false},"axis":{"orient":"bottom","values":[0,0.5,1,1.5,2,2.5,3,3.5,4,4.5,5],"format":".1f","title":"PRESSURE  (KB)"}},
"y":{"field":"v","type":"quantitative","scale":{"domain":[2.7,6.9],"nice":false,"zero":false},"axis":{"orient":"left","values":[2.7,3.3,3.9,4.5,5.1,5.7,6.3,6.9],"format":".1f","title":"Vp  (KM/S)"}},"detail":{"field":"s"}}},
{"transform":[{"filter":"datum.k=='o'"}],"mark":{"type":"point","shape":"M-1,0A1,1 0 1,0 1,0A1,1 0 1,0 -1,0ZM-0.25,0A0.25,0.25 0 1,0 0.25,0A0.25,0.25 0 1,0 -0.25,0Z","filled":false,"color":"black","strokeWidth":2,"size":121,"opacity":1},
"encoding":{"x":{"field":"p","type":"quantitative","scale":{"domain":[0,5],"nice":false,"zero":false},"axis":{"orient":"top","values":[0,0.5,1,1.5,2,2.5,3,3.5,4,4.5,5],"labelExpr":"format(datum.value*100,'d')","title":"PRESSURE  (MPa)"}},
"y":{"field":"v","type":"quantitative","scale":{"domain":[2.7,6.9],"nice":false,"zero":false},"axis":{"orient":"right","values":[2.7,3.3,3.9,4.5,5.1,5.7,6.3,6.9],"labels":false,"title":"E","titleAngle":90}}}},
{"transform":[{"filter":"datum.k=='x'"}],"mark":{"type":"point","shape":"M-1,0L1,0M0,-1L0,1","filled":false,"color":"black","strokeWidth":2,"size":144,"opacity":1},
"encoding":{"x":{"field":"p","type":"quantitative","scale":{"domain":[0,5],"nice":false,"zero":false},"axis":null},"y":{"field":"v","type":"quantitative","scale":{"domain":[2.7,6.9],"nice":false,"zero":false},"axis":null}}},
{"transform":[{"filter":"datum.k=='t'"}],"mark":{"type":"text","font":"Liberation Sans","fontStyle":"italic","fontWeight":"bold","fontSize":15,"color":"black"},
"encoding":{"x":{"field":"p","type":"quantitative","scale":{"domain":[0,5],"nice":false,"zero":false},"axis":null},"y":{"field":"v","type":"quantitative","scale":{"domain":[2.7,6.9],"nice":false,"zero":false},"axis":null},"text":{"field":"t"}}}
],
"resolve":{"axis":{"x":"independent","y":"independent"}}},
{"width":490,"height":343,"data":{"name":"F"},
"layer":[
{"transform":[{"filter":"datum.k=='l'"}],"mark":{"type":"line","interpolate":"monotone","color":"black","strokeWidth":2.4},
"encoding":{"x":{"field":"p","type":"quantitative","scale":{"domain":[0,5],"nice":false,"zero":false},"axis":{"orient":"bottom","values":[0,0.5,1,1.5,2,2.5,3,3.5,4,4.5,5],"format":".1f","title":"PRESSURE  (KB)"}},
"y":{"field":"v","type":"quantitative","scale":{"domain":[2.0,4.1],"nice":false,"zero":false},"axis":{"orient":"left","values":[2.0,2.3,2.6,2.9,3.2,3.5,3.8,4.1],"format":".1f","title":"Vs  (KM/S)"}},"detail":{"field":"s"}}},
{"transform":[{"filter":"datum.k=='o'"}],"mark":{"type":"point","shape":"M-1,0A1,1 0 1,0 1,0A1,1 0 1,0 -1,0ZM-0.25,0A0.25,0.25 0 1,0 0.25,0A0.25,0.25 0 1,0 -0.25,0Z","filled":false,"color":"black","strokeWidth":2,"size":121,"opacity":1},
"encoding":{"x":{"field":"p","type":"quantitative","scale":{"domain":[0,5],"nice":false,"zero":false},"axis":{"orient":"top","values":[0,0.5,1,1.5,2,2.5,3,3.5,4,4.5,5],"labelExpr":"format(datum.value*100,'d')","title":"PRESSURE  (MPa)"}},
"y":{"field":"v","type":"quantitative","scale":{"domain":[2.0,4.1],"nice":false,"zero":false},"axis":{"orient":"right","values":[2.0,2.3,2.6,2.9,3.2,3.5,3.8,4.1],"labels":false,"title":"F","titleAngle":0}}}},
{"transform":[{"filter":"datum.k=='x'"}],"mark":{"type":"point","shape":"M-1,0L1,0M0,-1L0,1","filled":false,"color":"black","strokeWidth":2,"size":144,"opacity":1},
"encoding":{"x":{"field":"p","type":"quantitative","scale":{"domain":[0,5],"nice":false,"zero":false},"axis":null},"y":{"field":"v","type":"quantitative","scale":{"domain":[2.0,4.1],"nice":false,"zero":false},"axis":null}}},
{"transform":[{"filter":"datum.k=='t'"}],"mark":{"type":"text","font":"Liberation Sans","fontStyle":"italic","fontWeight":"bold","fontSize":15,"color":"black"},
"encoding":{"x":{"field":"p","type":"quantitative","scale":{"domain":[0,5],"nice":false,"zero":false},"axis":null},"y":{"field":"v","type":"quantitative","scale":{"domain":[2.0,4.1],"nice":false,"zero":false},"axis":null},"text":{"field":"t"}}}
],
"resolve":{"axis":{"x":"independent","y":"independent"}}}
],
"config":{
"view":{"stroke":null},
"axis":{"domainColor":"black","domainWidth":2.5,"tickColor":"black","tickWidth":2,"tickSize":6,"grid":false,"labelFont":"DejaVu Sans Mono","labelFontWeight":"bold","labelFontSize":16,"labelColor":"black","labelFlush":false,"labelOverlap":false,"titleFont":"DejaVu Sans Mono","titleFontWeight":"normal","titleFontSize":19,"titleColor":"black"},
"axisBottom":{"labelPadding":9,"titlePadding":4},
"axisTop":{"labelPadding":10,"labelBaseline":"alphabetic","titlePadding":8},
"axisLeft":{"labelAngle":-90,"labelAlign":"center","labelBaseline":"alphabetic","labelPadding":7,"titlePadding":4},
"axisRight":{"titleX":41,"titleY":116,"titleAlign":"center","titleBaseline":"middle","titleFont":"Liberation Sans","titleFontSize":21,"titleFontWeight":"normal"}
}
}
